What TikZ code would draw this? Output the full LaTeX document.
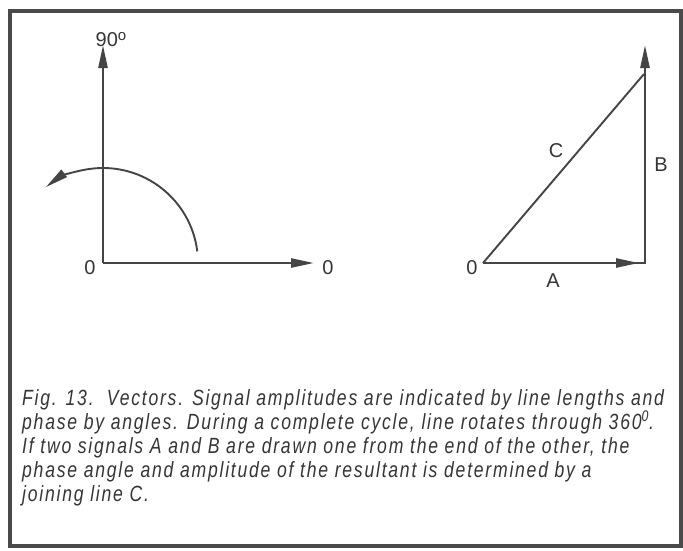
\documentclass[tikz,border=0pt]{standalone}
\usepackage{fontspec}
\setmainfont{Liberation Sans}
\newfontfamily\capfont[FakeStretch=0.8,LetterSpace=8]{Liberation Sans}
\usetikzlibrary{arrows.meta}
\definecolor{linec}{HTML}{454545}
\definecolor{textc}{HTML}{353535}
\definecolor{framec}{HTML}{4A4A4A}
\tikzset{
  vec/.style={draw=linec, line width=2.5pt, -{Triangle[length=23pt,width=9pt]}},
  plain/.style={draw=linec, line width=2.5pt},
  arcline/.style={draw=linec, line width=1.9pt, -{Triangle[length=23pt,width=9pt]}},
  lbl/.style={font=\fontsize{20}{22}\selectfont, text=textc, inner sep=0pt},
  captext/.style={font=\capfont\itshape\fontsize{22}{24}\selectfont, text=textc, inner sep=0pt, anchor=base west}
}
\begin{document}
\begin{tikzpicture}[x=1pt,y=-1pt]
\useasboundingbox (0,0) rectangle (683,550);
\fill[white] (0,0) rectangle (683,550);
\draw[draw=framec, line width=4pt] (10,11) rectangle (681,546);

% left diagram
\coordinate (O1) at (103,263);
\coordinate (Y1) at (103,45);
\coordinate (X1) at (314,263);
\draw[vec] (O1) -- (Y1);
\draw[vec] (O1) -- (X1);
\draw[arcline] ([shift={(-7:95)}]O1) arc[start angle=-7, end angle=-127, radius=95];
\node[lbl] (n90) at (111,40) {90\raisebox{6pt}{\fontsize{15}{15}\selectfont o}};
\node[lbl] (z1) at (90,268) {0};
\node[lbl] (z2) at (328,268) {0};

% right diagram
\coordinate (O2) at (483,263);
\coordinate (AR) at (639,263);
\coordinate (K) at (645,263);
\coordinate (BT) at (645,45);
\coordinate (CE) at (644,74);
\draw[vec] (O2) -- (AR);
\draw[plain] (630,263) -- (646.25,263);
\draw[vec] (K) -- (BT);
\draw[plain, line width=1.9pt] (O2) -- (CE);
\node[lbl] (z3) at (472,268) {0};
\node[lbl] (la) at (553,281) {A};
\node[lbl] (lb) at (661,165) {B};
\node[lbl] (lc) at (556,151) {C};

\node[captext] (cap1) at (22,405) {Fig. 13.\ \ Vectors. Signal amplitudes are indicated by line lengths and};
\node[captext] (cap2) at (22,429) {phase by angles. During a complete cycle, line rotates through 360\textsuperscript{0}.};
\node[captext] (cap3) at (22,453) {If two signals A and B are drawn one from the end of the other, the};
\node[captext] (cap4) at (22,477) {phase angle and amplitude of the resultant is determined by a};
\node[captext] (cap5) at (22,501) {joining line C.};
\end{tikzpicture}
\end{document}
